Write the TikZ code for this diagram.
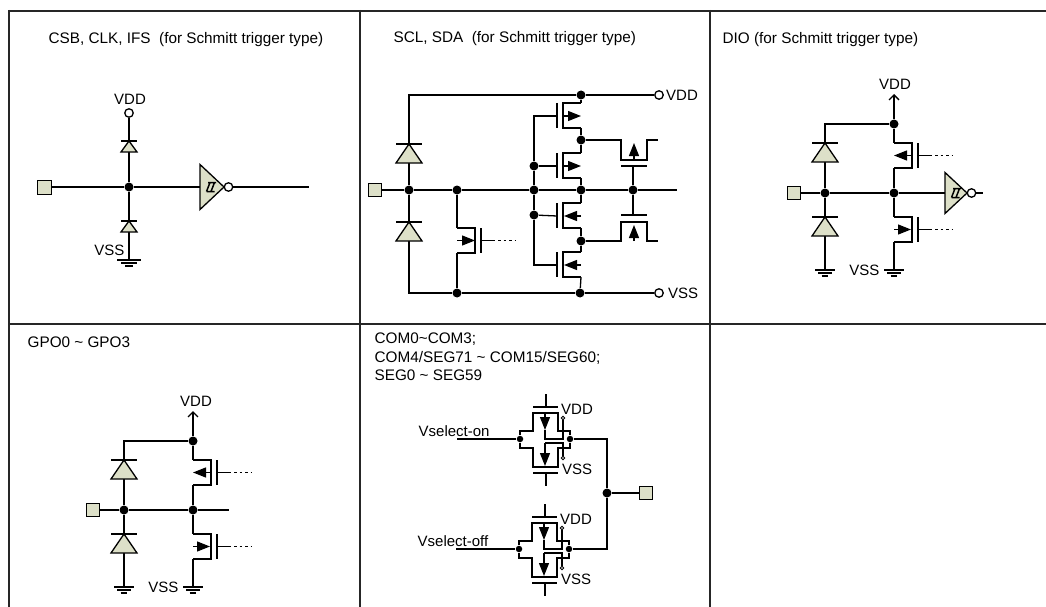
\documentclass[tikz,border=0pt]{standalone}
\usepackage{fontspec}
\setmainfont{Liberation Sans}
\usetikzlibrary{arrows.meta}
\definecolor{padfill}{RGB}{221,224,200}
\begin{document}
\begin{tikzpicture}[x=1pt,y=-1pt,line width=1.3pt]
\tikzstyle{frame}=[draw=black!85, line width=2pt]
\tikzstyle{title}=[inner sep=0, anchor=base west, font=\fontsize{15.3}{18.5}\selectfont, align=left]
\tikzstyle{lbl}=[inner sep=0, anchor=base, font=\fontsize{15}{18}\selectfont]
\tikzstyle{lblr}=[lbl, anchor=base east]
\tikzstyle{jdot}=[circle, fill=black, inner sep=0, minimum size=9pt]
\tikzstyle{jsmall}=[circle, fill=black, inner sep=0, minimum size=6.5pt]
\tikzstyle{opin}=[circle, draw=black, fill=white, inner sep=0, minimum size=8.5pt]
\tikzstyle{osmall}=[circle, draw=black, fill=white, line width=0.8pt, inner sep=0, minimum size=3.5pt]
\tikzstyle{pad}=[rectangle, draw=black, fill=padfill, line width=1pt, inner sep=0, minimum size=12.5pt]
\tikzstyle{marrow}=[-{Triangle[length=13pt,width=10pt]}]
\tikzstyle{oarrow}=[-{Straight Barb[length=5pt,width=10pt]}]
\useasboundingbox (0,0) rectangle (1046,607);

%table lines
\foreach \x in {9,360,710} {
\draw [frame] (\x,10) -- (\x,607);
}
\foreach \y in {11,324} {
\draw [frame] (8,\y) -- (1046,\y);
}

\node [title] (t1) at (48,44) {CSB, CLK, IFS\ \ (for Schmitt trigger type)};
\node [title] (t2) at (393,43) {SCL, SDA\ \ (for Schmitt trigger type)};
\node [title] (t3) at (722,44) {DIO (for Schmitt trigger type)};
\node [title] (t4) at (27,347) {GPO0 \textasciitilde{} GPO3};
\node [title] (t5) at (374,380.5) {COM0\textasciitilde COM3;\\COM4/SEG71 \textasciitilde{} COM15/SEG60;\\SEG0 \textasciitilde{} SEG59};

%first cell
\node [pad, minimum size=14pt] (pad1) at (44,187) {};
\node [jdot] (j1) at (129,187) {};
\node [opin] (vdd1) at (129,113) {};
\coordinate (gnd1) at (129,260);
\coordinate (inv1) at (200,187);
\draw (pad1) -- (j1) -- (inv1);
\draw (vdd1) -- (j1) -- (gnd1);
\node [lbl] (lv1) at (130,105) {VDD};
\node [lblr] (ls1) at (125,255.5) {VSS};

%second cell
\node [pad] (pad2) at (375,190) {};
\node [jdot] (j2a) at (409,190) {};
\node [jdot] (j2b) at (457,190) {};
\node [jdot] (j2c) at (534,190) {};
\node [jdot] (j2d) at (581,190) {};
\node [jdot] (j2e) at (633,190) {};
\coordinate (out2) at (677,190);
\node [jdot] (j2t) at (581,95) {};
\node [jdot] (j2u) at (581,140) {};
\node [jdot] (j2l) at (581,241) {};
\node [jdot] (j2m) at (580,293) {};
\node [jdot] (j2n) at (457,293) {};
\node [jdot] (j2p) at (534,166) {};
\node [jdot] (j2q) at (534,215) {};
\node [opin] (vdd2) at (659,95) {};
\node [opin] (vss2) at (659,293) {};
\node [lbl] (lv2) at (682,100.5) {VDD};
\node [lbl] (ls2) at (683,298.5) {VSS};
\draw (pad2) -- (j2a) -- (j2b) -- (j2c) -- (j2d) -- (j2e) -- (out2);
\draw (j2a) -- (409,95) -- (j2t) -- (vdd2);
\draw (j2a) -- (409,293) -- (j2n) -- (j2m) -- (vss2);
\foreach \n/\y/\a/\b in {1/103/564/581,2/153/564/581,3/203/581/564,4/252/581/564} {
\coordinate (d\n) at (581,\y);
\coordinate (s\n) at (581,\y+25);
\coordinate (g\n) at (557,\y+13);
\draw (d\n) -- (563,\y) -- (563,\y+25) -- (s\n);
\draw (557,\y) -- (557,\y+25);
\draw [marrow] (\a,\y+13) -- (\b,\y+13);
}
\draw (j2t) -- (d1);
\draw (s1) -- (j2u) -- (d2);
\draw (s2) -- (j2d) -- (d3);
\draw (s3) -- (j2l) -- (d4);
\draw (s4) -- (j2m);
\draw (g1) -| (j2p) -- (j2c) -- (j2q) |- (g4);
\draw (j2p) -- (g2);
\draw (j2q) -- (g3);
%feedback pair
\draw (j2u) -- (621,140) -- (621,160) -- (647,160) -- (647,140) -- (658,140);
\draw [marrow] (634,160) -- (634,143);
\draw (621,166) -- (647,166);
\draw (j2e) -- (633,166);
\draw (j2l) -- (621,241) -- (621,222) -- (647,222) -- (647,241) -- (658,241);
\draw [marrow] (634,241) -- (634,225);
\draw (621,215) -- (647,215);
\draw (j2e) -- (633,215);

%third cell
\node [pad] (pad3) at (794,193) {};
\node [jdot] (j3a) at (825,193) {};
\node [jdot] (j3b) at (894,193) {};
\node [jdot] (j3t) at (894,124) {};
\coordinate (vdd3) at (894,94);
\coordinate (gnd3a) at (825,270);
\coordinate (gnd3b) at (894,270);
\coordinate (inv3) at (945,193);
\draw (pad3) -- (j3a) -- (j3b) -- (inv3);
\draw (j3a) -- (825,124) -- (j3t);
\draw (j3a) -- (gnd3a);
\draw [oarrow] (j3t) -- (vdd3);
\node [lbl] (lv3) at (895,89.5) {VDD};
\node [lblr] (ls3) at (880,275.5) {VSS};

%fourth cell
\node [pad] (pad4) at (93,510) {};
\node [jdot] (j4a) at (124,510) {};
\node [jdot] (j4b) at (193,510) {};
\node [jdot] (j4t) at (193,441) {};
\coordinate (vdd4) at (193,411);
\coordinate (gnd4a) at (124,587);
\coordinate (gnd4b) at (193,587);
\coordinate (out4) at (229,510);
\draw (pad4) -- (j4a) -- (j4b) -- (out4);
\draw (j4a) -- (124,441) -- (j4t);
\draw (j4a) -- (gnd4a);
\draw [oarrow] (j4t) -- (vdd4);
\node [lbl] (lv4) at (196,406.5) {VDD};
\node [lblr] (ls4) at (179,592.5) {VSS};

%pmos and nmos with the dotted gate
\foreach \n/\x/\y/\a/\b in {a/457/228/0/18,b/894/143/18/0,c/894/217/0/17,e/193/460/18/0,f/193/534/0/17} {
\begin{scope}[shift={(\x,\y)}]
\coordinate (pd\n) at (0,0);
\coordinate (ps\n) at (0,25);
\draw (pd\n) -- (18,0) -- (18,25) -- (ps\n);
\draw (24,0) -- (24,25);
\draw (24,12.5) -- (38,12.5);
\draw [line width=1.6pt, dash pattern=on 2.5pt off 3pt] (41,12.5) -- (58,12.5);
\draw [marrow] (\a,12.5) -- (\b,12.5);
\end{scope}
}
\draw (j2b) -- (pda);
\draw (psa) -- (j2n);
\draw (j3t) -- (pdb);
\draw (psb) -- (j3b) -- (pdc);
\draw (psc) -- (gnd3b);
\draw (j4t) -- (pde);
\draw (pse) -- (j4b) -- (pdf);
\draw (psf) -- (gnd4b);

%fifth cell
\node [pad] (pad5) at (646,493) {};
\node [jdot] (j5) at (607,493) {};
\draw (j5) -- (pad5);
\foreach \n/\sx/\sy/\name in {1/0/0/Vselect-on,2/-1/110/Vselect-off} {
\begin{scope}[shift={(\sx,\sy)}]
\node [jsmall] (in\n) at (520,439) {};
\node [jsmall] (ou\n) at (570,439) {};
\node [osmall] (vp\n) at (563,418) {};
\node [osmall] (vn\n) at (563,458) {};
\coordinate (vin\n) at (457,439);
\draw (vin\n) -- (in\n);
\draw (in\n) -- (520,431) -- (533,431) -- (533,413) -- (558,413) -- (558,431) -- (570,431) -- (ou\n);
\draw (in\n) -- (520,448) -- (533,448) -- (533,467) -- (558,467) -- (558,448) -- (570,448) -- (ou\n);
\draw (533,407) -- (558,407);
\draw (546,394) -- (546,407);
\draw (533,473) -- (558,473);
\draw (546,473) -- (546,486);
\draw [marrow] (545,415) -- (545,430);
\draw (545,430) -- (545,439) -- (563,439) -- (vp\n);
\draw (545,413) -- (545,418);
\draw (vn\n) -- (563,443) -- (545,443);
\draw [marrow] (545,443) -- (545,466);
\node [lbl] (lp\n) at (577,414.5) {VDD};
\node [lbl] (ln\n) at (577,474.5) {VSS};
\node [lbl, anchor=base west] (sel\n) at (418,436.5) {\name};
\end{scope}
\draw (ou\n) -| (j5);
}

%ground symbols
\foreach \n/\w in {gnd1/12,gnd3a/10,gnd3b/10,gnd4a/10,gnd4b/10} {
\draw [line width=1.1pt] ([xshift=-\w pt]\n) -- ([xshift=\w pt]\n);
\draw [line width=1.1pt] ([shift={(-0.66*\w pt,-3pt)}]\n) -- ([shift={(0.66*\w pt,-3pt)}]\n);
\draw [line width=1.1pt] ([shift={(-0.33*\w pt,-6pt)}]\n) -- ([shift={(0.33*\w pt,-6pt)}]\n);
}

%diodes
\foreach \x/\y/\h/\w in {129/141/11/8,129/221/11/8,409/144/19/13,409/222/19/13,825/143/19/13,825/217/19/13,124/460/19/13,124/534/19/13} {
\draw [fill=padfill] (\x,\y) -- (\x+\w,\y+\h) -- (\x-\w,\y+\h) -- cycle;
\draw (\x-\w,\y) -- (\x+\w,\y);
}

%schmitt inverters
\foreach \n/\x/\y/\w/\h/\e in {1/200/187/24/22.5/309,3/945/193/22/20.5/983} {
\begin{scope}[shift={(\x,\y)}]
\draw [fill=padfill] (0,-\h) -- (\w,0) -- (0,\h) -- cycle;
\node [opin] (bub\n) at (\w+4.5,0) {};
\draw [line width=1.5pt] (6.5,4.5) -- (14.5,4.5) (16,-4.5) -- (8,-4.5) (6.5,4.5) -- (10,-4.5) (11,4.5) -- (14.5,-4.5);
\end{scope}
\coordinate (end\n) at (\e,\y);
\draw (bub\n) -- (end\n);
}
\end{tikzpicture}
\end{document}
